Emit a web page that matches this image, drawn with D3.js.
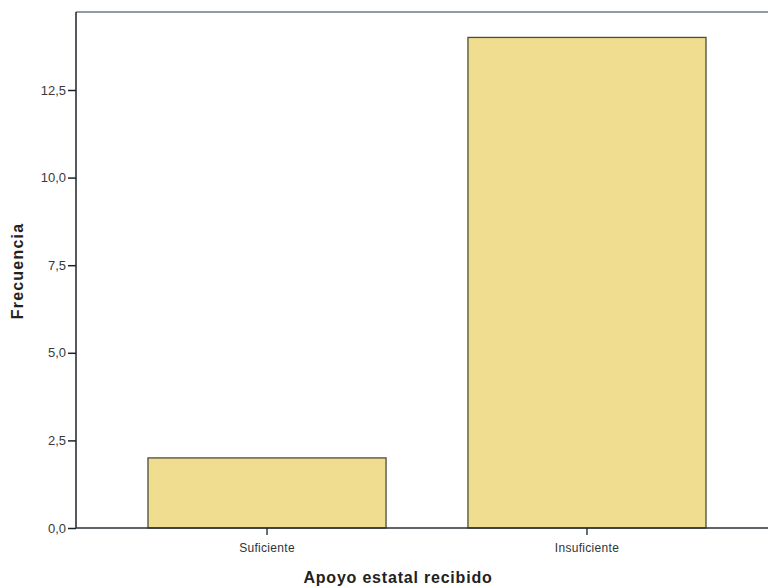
<!DOCTYPE html>
<html><head><meta charset="utf-8">
<script src="https://cdn.jsdelivr.net/npm/d3@7"></script>
<style>html,body{margin:0;padding:0;background:#fff;}svg{display:block;}</style>
</head><body>
<script>
const categories = ["Suficiente", "Insuficiente"];
const frequencies = [2, 14];
const yTicks = [0, 2.5, 5, 7.5, 10, 12.5];
const yTitle = "Frecuencia";
const xTitle = "Apoyo estatal recibido";

const W = 768, H = 587;
const mLeft = 76, mRight = 778, mTop = 12, mBottom = 528;

const svg = d3.select("body").append("svg").attr("width", W).attr("height", H);

const x = d3.scaleBand().domain(categories).range([mLeft, mRight])
  .paddingInner(0.256).paddingOuter(0.225);
const y = d3.scaleLinear().domain([0, 12.5]).range([mBottom, 90]);

// frame top
svg.append("line").attr("x1", mLeft).attr("x2", W + 10).attr("y1", mTop).attr("y2", mTop)
  .attr("stroke", "#6f7a80").attr("stroke-width", 1.5);

// bars
svg.selectAll("rect.bar").data(categories).join("rect").attr("class", "bar")
  .attr("x", d => x(d)).attr("width", x.bandwidth())
  .attr("y", (d, i) => y(frequencies[i])).attr("height", (d, i) => y(0) - y(frequencies[i]))
  .attr("fill", "#f1dd8f").attr("stroke", "#4a4c3c").attr("stroke-width", 1.3);

// y axis
const yAxis = d3.axisLeft(y).tickValues(yTicks).tickSize(8).tickPadding(2)
  .tickFormat(d => d3.format(".1f")(d).replace(".", ","));
const gy = svg.append("g").attr("transform", `translate(${mLeft},0)`).call(yAxis);
gy.select(".domain").attr("d", `M0,${mTop}V${mBottom}`).attr("stroke", "#1c2228").attr("stroke-width", 1.5);
gy.selectAll(".tick line").attr("stroke", "#1c2228").attr("stroke-width", 1.5);
gy.selectAll(".tick text").attr("font-family", "Liberation Sans, Arial, sans-serif")
  .attr("font-size", 13).attr("fill", "#3a3a3a");

// x axis
const xAxis = d3.axisBottom(x).tickSize(7).tickPadding(8);
const gx = svg.append("g").attr("transform", `translate(0,${mBottom})`).call(xAxis);
gx.select(".domain").attr("d", `M${mLeft},0H${W + 10}`).attr("stroke", "#2a3036").attr("stroke-width", 1.5);
gx.selectAll(".tick line").attr("stroke", "#1c2228").attr("stroke-width", 1.3);
gx.selectAll(".tick text").attr("font-family", "Liberation Sans, Arial, sans-serif")
  .attr("font-size", 12).attr("fill", "#333").attr("letter-spacing", "0.3px");

// titles
svg.append("text").attr("x", 398).attr("y", 583).attr("text-anchor", "middle")
  .attr("font-family", "Liberation Sans, Arial, sans-serif").attr("font-weight", "bold")
  .attr("font-size", 16).attr("letter-spacing", "0.8px").attr("fill", "#222").text(xTitle);
svg.append("text").attr("transform", "translate(23,271) rotate(-90)").attr("text-anchor", "middle")
  .attr("font-family", "Liberation Sans, Arial, sans-serif").attr("font-weight", "bold")
  .attr("font-size", 16).attr("letter-spacing", "1.2px").attr("fill", "#222").text(yTitle);
</script>
</body></html>
